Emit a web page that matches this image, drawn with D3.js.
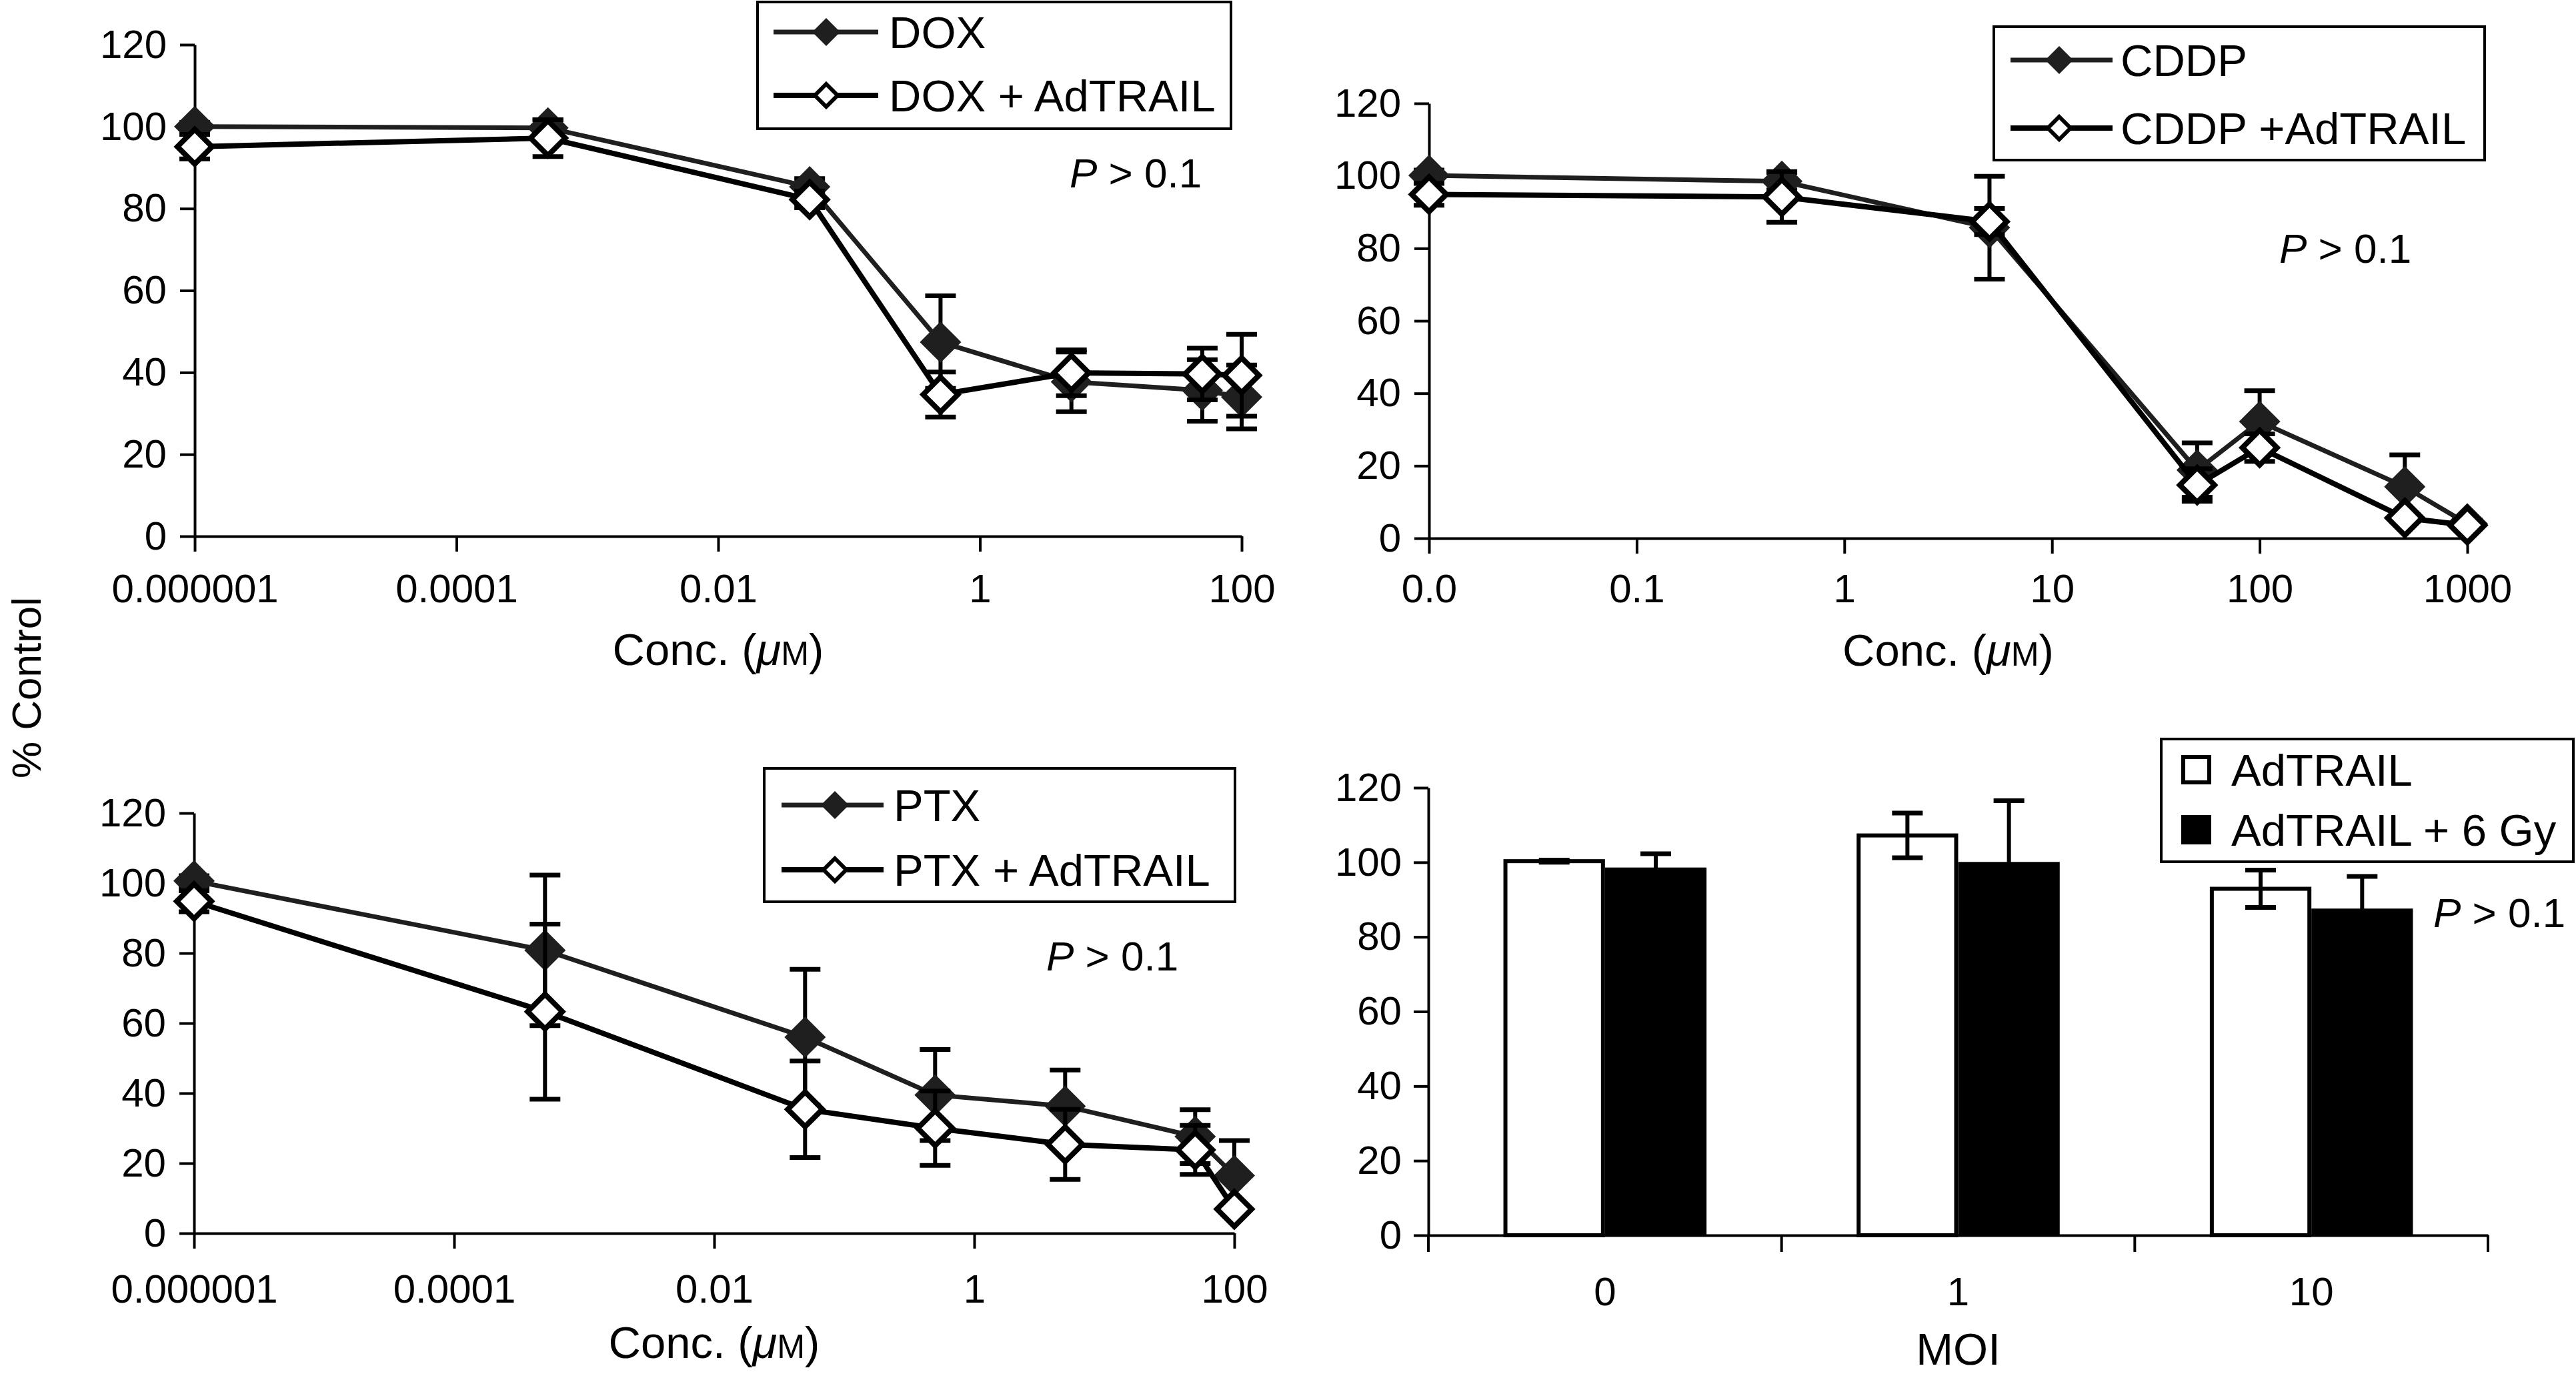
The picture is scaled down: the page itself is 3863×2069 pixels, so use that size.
<!DOCTYPE html>
<html><head><meta charset="utf-8">
<script src="https://cdn.jsdelivr.net/npm/d3@7"></script>
<style>
html,body{margin:0;padding:0;background:#fff;}
svg{display:block;}
</style></head><body>
<svg id="chart" width="3863" height="2069"></svg>
<script>
// ---------- DATA ----------
const yTickValues = [0, 20, 40, 60, 80, 100, 120];

// Panel A: DOX
const doxConc = [0.000001, 0.0005, 0.05, 0.5, 5, 50, 100];
const doxMean = [100, 99.7, 85.3, 47.4, 37.7, 35.6, 34];
const doxErr = [1, 2, 2, 11.3, 7.3, 7.5, 7.8];
const doxAdMean = [95.1, 97.2, 82.2, 34.6, 39.9, 39.6, 39.3];
const doxAdErr = [3, 4.5, 2, 5.5, 5.6, 6.3, 10];
const doxTicks = [0.000001, 0.0001, 0.01, 1, 100];
const doxTickLabels = ["0.000001", "0.0001", "0.01", "1", "100"];

// Panel B: CDDP
const cddpConc = [0.01, 0.5, 5, 50, 100, 500, 1000];
const cddpMean = [100.1, 98.5, 85.7, 18.8, 32.2, 14.2, 4];
const cddpErr = [1.5, 2.4, 14.2, 7.5, 8.5, 8.8, 1];
const cddpAdMean = [94.9, 94.2, 87.4, 14.7, 25, 5.6, 3.6];
const cddpAdErr = [3, 7, 3.6, 4.5, 3.8, 1, 1];
const cddpTicks = [0.01, 0.1, 1, 10, 100, 1000];
const cddpTickLabels = ["0.0", "0.1", "1", "10", "100", "1000"];

// Panel C: PTX
const ptxConc = [0.000001, 0.0005, 0.05, 0.5, 5, 50, 100];
const ptxMean = [100.6, 80.8, 56, 39.5, 36.3, 27.6, 16.5];
const ptxErr = [1.5, 21.5, 19.4, 13, 10.3, 7.7, 10];
const ptxAdMean = [94.8, 63.3, 35.4, 30, 25.4, 23.8, 6.9];
const ptxAdErr = [3, 25, 13.8, 10.6, 10, 7, 1];
const ptxTicks = [0.000001, 0.0001, 0.01, 1, 100];
const ptxTickLabels = ["0.000001", "0.0001", "0.01", "1", "100"];

// Panel D: MOI bars
const moiCats = ["0", "1", "10"];
const adtrailMean = [100.3, 107.2, 92.9];
const adtrailErr = [0.3, 6, 5];
const adtrail6Mean = [98.6, 100.1, 87.6];
const adtrail6Err = [3.7, 16.4, 8.6];

// ---------- DRAWING ----------
const FONT = '"Liberation Sans", Arial, Helvetica, sans-serif';
const FS = 62, TFS = 60, LFS = 67;
const DARK = "#1f1f1f";
const svg = d3.select("#chart");
svg.append("rect").attr("width", 3863).attr("height", 2069).attr("fill", "#fff");

function styleAxis(a) {
  a.attr("font-size", TFS).attr("font-family", FONT);
  a.select(".domain").attr("stroke", "#000").attr("stroke-width", 4);
  a.selectAll(".tick line").attr("stroke", "#000").attr("stroke-width", 4);
  a.selectAll(".tick text").attr("fill", "#000");
}

function diamond(r) { return `M0,${-r}L${r},0L0,${r}L${-r},0Z`; }

function concTitle(g, cx, baseline) {
  const t = g.append("text").attr("x", cx).attr("y", baseline).attr("text-anchor", "middle")
    .attr("font-size", LFS).attr("font-family", FONT).attr("fill", "#000");
  t.append("tspan").text("Conc. (");
  t.append("tspan").attr("font-style", "italic").text("\u03bc");
  t.append("tspan").attr("font-size", LFS * 0.75).text("M");
  t.append("tspan").text(")");
}

function pText(g, x, baseline) {
  const t = g.append("text").attr("x", x).attr("y", baseline)
    .attr("font-size", FS).attr("font-family", FONT).attr("fill", "#000");
  t.append("tspan").attr("font-style", "italic").text("P");
  t.append("tspan").text(" > 0.1");
}

function errorBars(g, xs, y, means, errs, stroke) {
  means.forEach((m, i) => {
    const cx = xs[i];
    const top = y(m + errs[i]), bot = y(Math.max(0, m - errs[i]));
    g.append("line").attr("x1", cx).attr("x2", cx).attr("y1", top).attr("y2", bot)
      .attr("stroke", stroke).attr("stroke-width", 6);
    [top, bot].forEach(yy => g.append("line").attr("x1", cx - 23).attr("x2", cx + 23)
      .attr("y1", yy).attr("y2", yy).attr("stroke", stroke).attr("stroke-width", 7));
  });
}

function linePanel(cfg) {
  const g = svg.append("g");
  const x = d3.scaleLog().domain(cfg.xDomain).range(cfg.xRange);
  const y = d3.scaleLinear().domain([0, 120]).range(cfg.yRange);

  const ya = g.append("g").attr("transform", `translate(${cfg.xRange[0]},0)`)
    .call(d3.axisLeft(y).tickValues(yTickValues).tickFormat(d3.format("d"))
      .tickSize(22).tickSizeOuter(0).tickPadding(20));
  styleAxis(ya);
  const xa = g.append("g").attr("transform", `translate(0,${cfg.yRange[0]})`)
    .call(d3.axisBottom(x).tickValues(cfg.xTicks).tickFormat((d, i) => cfg.xLabels[i])
      .tickSize(23).tickSizeOuter(0).tickPadding(cfg.xPad));
  styleAxis(xa);

  cfg.series.forEach(s => {
    const xs = cfg.conc.map(c => x(c));
    errorBars(g, xs, y, s.mean, s.err, "#000");
    g.append("path").datum(d3.range(cfg.conc.length))
      .attr("d", d3.line().x(i => x(cfg.conc[i])).y(i => y(s.mean[i])))
      .attr("fill", "none").attr("stroke", s.filled ? DARK : "#000")
      .attr("stroke-width", s.filled ? 7 : 8).attr("stroke-linejoin", "miter");
    g.selectAll(null).data(d3.range(cfg.conc.length)).enter().append("path")
      .attr("transform", i => `translate(${x(cfg.conc[i])},${y(s.mean[i])})`)
      .attr("d", s.filled ? diamond(31) : diamond(26))
      .attr("fill", s.filled ? DARK : "#fff")
      .attr("stroke", s.filled ? "none" : "#000")
      .attr("stroke-width", s.filled ? 0 : 8);
  });

  // legend
  const L = cfg.legend;
  g.append("rect").attr("x", L.x).attr("y", L.y).attr("width", L.w).attr("height", L.h)
    .attr("fill", "#fff").attr("stroke", "#000").attr("stroke-width", 4);
  cfg.series.forEach((s, k) => {
    const ry = L.rows[k];
    g.append("line").attr("x1", L.lx1).attr("x2", L.lx2).attr("y1", ry).attr("y2", ry)
      .attr("stroke", s.filled ? DARK : "#000").attr("stroke-width", s.filled ? 7 : 8);
    g.append("path").attr("transform", `translate(${L.mx},${ry})`)
      .attr("d", s.filled ? diamond(21) : diamond(17))
      .attr("fill", s.filled ? DARK : "#fff")
      .attr("stroke", s.filled ? "none" : "#000").attr("stroke-width", s.filled ? 0 : 6);
    g.append("text").attr("x", L.tx).attr("y", ry + LFS * 0.36)
      .attr("font-size", LFS).attr("font-family", FONT).attr("fill", "#000").text(s.name);
  });

  pText(g, cfg.p[0], cfg.p[1]);
  concTitle(g, (cfg.xRange[0] + cfg.xRange[1]) / 2, cfg.titleY);
}

linePanel({
  xDomain: [0.000001, 100], xRange: [292, 1862], yRange: [804, 67],
  xTicks: doxTicks, xLabels: doxTickLabels, xPad: 33, conc: doxConc,
  series: [
    { name: "DOX", mean: doxMean, err: doxErr, filled: true },
    { name: "DOX + AdTRAIL", mean: doxAdMean, err: doxAdErr, filled: false }
  ],
  legend: { x: 1136, y: 3, w: 710, h: 190, rows: [48, 143], lx1: 1160, lx2: 1317, mx: 1239, tx: 1333 },
  p: [1604, 281], titleY: 997
});

linePanel({
  xDomain: [0.01, 1000], xRange: [2143, 3700], yRange: [807, 155],
  xTicks: cddpTicks, xLabels: cddpTickLabels, xPad: 30, conc: cddpConc,
  series: [
    { name: "CDDP", mean: cddpMean, err: cddpErr, filled: true },
    { name: "CDDP +AdTRAIL", mean: cddpAdMean, err: cddpAdErr, filled: false }
  ],
  legend: { x: 2990, y: 40, w: 736, h: 200, rows: [90, 192], lx1: 3015, lx2: 3168, mx: 3088, tx: 3180 },
  p: [3418, 394], titleY: 998
});

linePanel({
  xDomain: [0.000001, 100], xRange: [291, 1851], yRange: [1849, 1219],
  xTicks: ptxTicks, xLabels: ptxTickLabels, xPad: 38, conc: ptxConc,
  series: [
    { name: "PTX", mean: ptxMean, err: ptxErr, filled: true },
    { name: "PTX + AdTRAIL", mean: ptxAdMean, err: ptxAdErr, filled: false }
  ],
  legend: { x: 1146, y: 1152, w: 706, h: 200, rows: [1207, 1304], lx1: 1172, lx2: 1325, mx: 1252, tx: 1340 },
  p: [1569, 1455], titleY: 2036
});

// Panel D: bars
(function () {
  const g = svg.append("g");
  const xr = [2142, 3731];
  const x0 = d3.scaleBand().domain(moiCats).range(xr).paddingInner(0.425).paddingOuter(0.2125);
  const x1 = d3.scaleBand().domain(["a", "b"]).range([0, x0.bandwidth()]);
  const y = d3.scaleLinear().domain([0, 120]).range([1852, 1181]);

  const ya = g.append("g").attr("transform", `translate(${xr[0]},0)`)
    .call(d3.axisLeft(y).tickValues(yTickValues).tickFormat(d3.format("d"))
      .tickSize(22).tickSizeOuter(0).tickPadding(18));
  styleAxis(ya);

  const series = [
    { key: "a", mean: adtrailMean, err: adtrailErr, fill: "#fff" },
    { key: "b", mean: adtrail6Mean, err: adtrail6Err, fill: "#000" }
  ];
  series.forEach(s => {
    g.selectAll(null).data(moiCats).enter().append("rect")
      .attr("x", (d) => x0(d) + x1(s.key) + (s.fill === "#fff" ? 3 : 0))
      .attr("width", x1.bandwidth() - (s.fill === "#fff" ? 6 : 0))
      .attr("y", (d, i) => y(s.mean[i]))
      .attr("height", (d, i) => y(0) - y(s.mean[i]))
      .attr("fill", s.fill).attr("stroke", "#000").attr("stroke-width", s.fill === "#fff" ? 6 : 0);
  });
  series.forEach(s => {
    const xs = moiCats.map(d => x0(d) + x1(s.key) + x1.bandwidth() / 2);
    errorBars(g, xs, y, s.mean, s.err, "#000");
  });

  const xa = g.append("g").attr("transform", `translate(0,${y(0)})`)
    .call(d3.axisBottom(x0).tickSize(0).tickSizeOuter(0).tickPadding(37 + 25));
  styleAxis(xa);
  // category boundary ticks
  d3.range(moiCats.length + 1).forEach(i => {
    const bx = xr[0] + i * x0.step();
    g.append("line").attr("x1", bx).attr("x2", bx).attr("y1", y(0)).attr("y2", y(0) + 25)
      .attr("stroke", "#000").attr("stroke-width", 4);
  });

  // legend
  g.append("rect").attr("x", 3241).attr("y", 1108).attr("width", 618).attr("height", 184)
    .attr("fill", "#fff").attr("stroke", "#000").attr("stroke-width", 4);
  const legRows = [1154, 1244];
  const legNames = ["AdTRAIL", "AdTRAIL + 6 Gy"];
  series.forEach((s, k) => {
    g.append("rect").attr("x", s.fill === "#fff" ? 3274 : 3271).attr("y", legRows[k] - (s.fill === "#fff" ? 19 : 22))
      .attr("width", s.fill === "#fff" ? 39 : 45).attr("height", s.fill === "#fff" ? 38 : 44)
      .attr("fill", s.fill).attr("stroke", "#000").attr("stroke-width", s.fill === "#fff" ? 6 : 0);
    g.append("text").attr("x", 3346).attr("y", legRows[k] + LFS * 0.36)
      .attr("font-size", LFS).attr("font-family", FONT).attr("fill", "#000").text(legNames[k]);
  });

  pText(g, 3649, 1390);
  g.append("text").attr("x", (xr[0] + xr[1]) / 2).attr("y", 2046).attr("text-anchor", "middle")
    .attr("font-size", LFS).attr("font-family", FONT).attr("fill", "#000").text("MOI");
})();

// shared y title
svg.append("text").attr("transform", "translate(61,1031) rotate(-90)").attr("text-anchor", "middle")
  .attr("font-size", FS).attr("font-family", FONT).attr("fill", "#000").text("% Control");
</script>
</body></html>
